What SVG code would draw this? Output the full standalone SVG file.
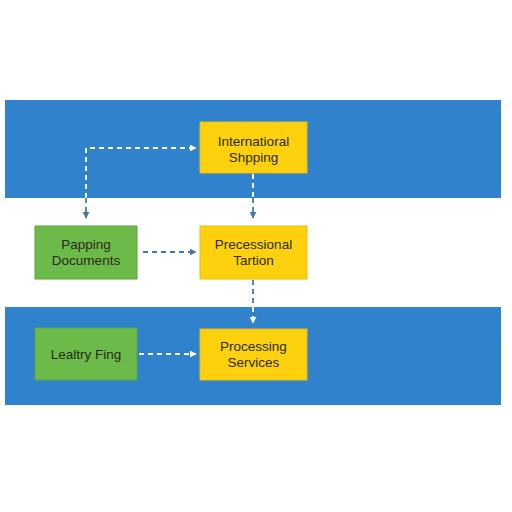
<svg xmlns="http://www.w3.org/2000/svg" width="512" height="512" viewBox="0 0 512 512">
<defs>
<style>
.band{fill:#2f82cb;}
.y{fill:#fdd10d;stroke:#e8bd10;stroke-width:1;}
.g{fill:#6cbb4a;stroke:#5aa53c;stroke-width:1;}
.t{font-family:"Liberation Sans",Arial,sans-serif;font-size:13.5px;fill:#2a2a10;text-anchor:middle;}
.cw{fill:none;stroke:#ffffff;stroke-width:1.8;stroke-dasharray:5 4;}
.cb{fill:none;stroke:#4677a8;stroke-width:1.8;stroke-dasharray:5 4;}
</style>
<marker id="aw" viewBox="0 0 10 10" refX="9" refY="5" markerWidth="7" markerHeight="7" orient="auto" markerUnits="userSpaceOnUse"><path d="M0,0 L10,5 L0,10 z" fill="#ffffff"/></marker>
<marker id="ab" viewBox="0 0 10 10" refX="9" refY="5" markerWidth="7" markerHeight="7" orient="auto" markerUnits="userSpaceOnUse"><path d="M0,0 L10,5 L0,10 z" fill="#4677a8"/></marker>
</defs>
<rect width="512" height="512" fill="#ffffff"/>
<rect class="band" x="5" y="100" width="496" height="98"/>
<rect class="band" x="5" y="307" width="496" height="98"/>
<g id="connectors">
<path class="cw" d="M86,198 L86,148 L196,148" marker-end="url(#aw)"/>
<path class="cb" d="M86,198 L86,218" marker-end="url(#ab)"/>
<path class="cw" d="M253,174 L253,198"/>
<path class="cb" d="M253,198 L253,218" marker-end="url(#ab)"/>
<path class="cb" d="M143,252 L196,252" marker-end="url(#ab)"/>
<path class="cb" d="M253,280 L253,307"/>
<path class="cw" d="M253,307 L253,323" marker-end="url(#aw)"/>
<path class="cw" d="M139,354 L196,354" marker-end="url(#aw)"/>
</g>
<g id="international-shipping">
<rect class="y" x="200" y="122" width="107" height="51"/>
<text class="t" x="253.5" y="146">Internatioral</text>
<text class="t" x="253.5" y="162">Shpping</text>
</g>
<g id="papping-documents">
<rect class="g" x="35" y="226" width="102" height="53"/>
<text class="t" x="86" y="249">Papping</text>
<text class="t" x="86" y="265">Documents</text>
</g>
<g id="precessional-tartion">
<rect class="y" x="200" y="226" width="107" height="53"/>
<text class="t" x="253.5" y="249">Precessional</text>
<text class="t" x="253.5" y="265">Tartion</text>
</g>
<g id="lealtry-fing">
<rect class="g" x="35" y="328" width="102" height="52"/>
<text class="t" x="86" y="359">Lealtry Fing</text>
</g>
<g id="processing-services">
<rect class="y" x="200" y="329" width="107" height="51"/>
<text class="t" x="253.5" y="351">Processing</text>
<text class="t" x="253.5" y="367">Services</text>
</g>
</svg>
